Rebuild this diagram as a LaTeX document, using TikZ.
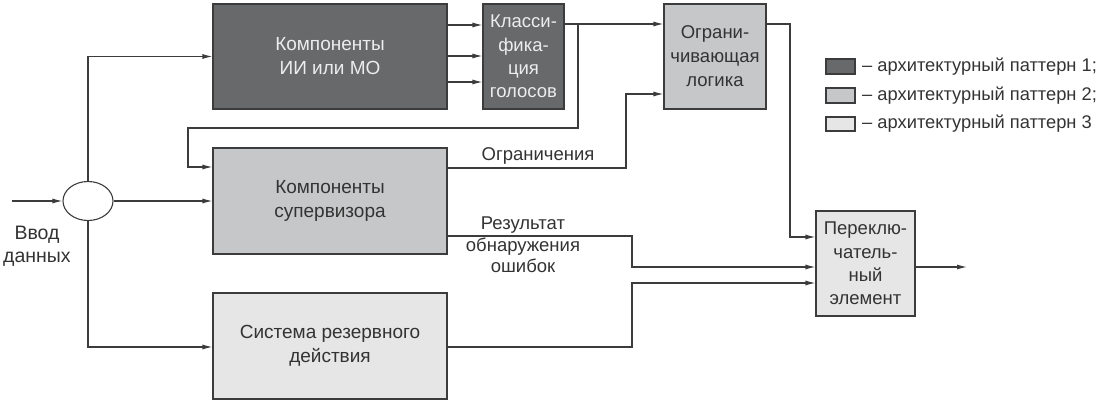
\documentclass[tikz,border=0pt]{standalone}
\usepackage{fontspec}
\setmainfont{Liberation Sans}
\usetikzlibrary{arrows.meta,shapes.geometric}
\definecolor{cdark}{HTML}{67696B}
\definecolor{cmid}{HTML}{C6C7C9}
\definecolor{clight}{HTML}{E6E6E7}
\definecolor{cline}{HTML}{3C3C3C}
\definecolor{cwtext}{HTML}{EDEDED}
\definecolor{ctext}{HTML}{333333}
\begin{document}
\begin{tikzpicture}[x=1pt,y=-1pt,
  font=\fontsize{19}{24}\selectfont,
  box/.style={draw=cline, line width=1.1pt, inner sep=0pt, align=center, text=ctext},
  darkbox/.style={box, fill=cdark, text=cwtext},
  midbox/.style={box, fill=cmid},
  lightbox/.style={box, fill=clight},
  conn/.style={draw=cline, line width=1.1pt},
  arr/.style={conn, -{Latex[length=10pt,width=5pt]}},
  lbl/.style={text=ctext, inner sep=0pt, align=center},
  legtext/.style={lbl, anchor=west, font=\fontsize{18.3}{22}\selectfont}]
\useasboundingbox (0,0) rectangle (1102,403);

% boxes
\node[darkbox, minimum width=234pt, minimum height=105pt] (ai) at (330,56.5) {Компоненты\\ИИ или МО};
\node[darkbox, minimum width=81pt, minimum height=105pt, font=\fontsize{18.5}{23.3}\selectfont] (cls) at (523.5,56.5) {Класси-\\фика-\\ция\\голосов};
\node[midbox, minimum width=102pt, minimum height=105pt, font=\fontsize{18.5}{24}\selectfont] (lim) at (715,56.5) {Ограни-\\чивающая\\логика};
\node[midbox, minimum width=234pt, minimum height=106pt] (sup) at (330,201) {Компоненты\\супервизора};
\node[lightbox, minimum width=234pt, minimum height=106pt] (res) at (330,346) {Система резервного\\действия};
\node[lightbox, minimum width=99pt, minimum height=105pt, font=\fontsize{18.5}{23.3}\selectfont] (sw) at (865.5,263.5) {Переклю-\\чатель-\\ный\\элемент};
\node[draw=cline, line width=1.1pt, fill=white, ellipse, minimum width=50pt, minimum height=39pt, inner sep=0pt] (ell) at (88,201) {};

% legend
\node[darkbox, minimum width=29pt, minimum height=15pt] (lg1) at (840.5,66.5) {};
\node[midbox, minimum width=29pt, minimum height=15pt] (lg2) at (840.5,95.5) {};
\node[lightbox, minimum width=29pt, minimum height=14pt] (lg3) at (840.5,124) {};
\node[legtext] (lt1) at (862,66.5) {– архитектурный паттерн 1;};
\node[legtext] (lt2) at (862,95.5) {– архитектурный паттерн 2;};
\node[legtext] (lt3) at (862,124) {– архитектурный паттерн 3};

% input
\coordinate (in) at (12,201);
\node[lbl, font=\fontsize{19.5}{23}\selectfont] (inlbl) at (37,246) {Ввод\\данных};
\draw[arr] (in) -- (ell.west);

% from ellipse
\draw[arr] (ell.north) |- (ai.west);
\draw[arr] (ell.east) -- (sup.west);
\draw[arr] (ell.south) |- (res.west |- 0,347);

% ai -> cls
\draw[arr] (ai.east |- 0,25) -- (cls.west |- 0,25);
\draw[arr] (ai.east |- 0,56) -- (cls.west |- 0,56);
\draw[arr] (ai.east |- 0,82) -- (cls.west |- 0,82);

% cls -> lim and feedback
\draw[arr] (cls.east |- 0,24) -- (lim.west |- 0,24);
\coordinate (fb1) at (578,24);
\coordinate (fb2) at (578,128);
\coordinate (fb3) at (188,128);
\draw[arr] (fb1) -- (fb2) -- (fb3) |- (sup.west |- 0,167);

% sup -> lim (constraints)
\coordinate (c1) at (626,168);
\draw[arr] (sup.east |- 0,168) -- (c1) |- (lim.west |- 0,94);
\node[lbl, font=\fontsize{18.5}{23}\selectfont] (clbl) at (538,156) {Ограничения};

% lim -> sw
\coordinate (l1) at (790,24);
\draw[arr] (lim.east |- 0,24) -- (l1) |- (sw.west |- 0,237);

% sup -> sw (errors)
\coordinate (e1) at (632,236);
\draw[arr] (sup.east |- 0,236) -- (e1) |- (sw.west |- 0,267);
\node[lbl, font=\fontsize{18.5}{21.5}\selectfont] (elbl) at (523,245) {Результат\\обнаружения\\ошибок};

% res -> sw
\coordinate (r1) at (632,347);
\draw[arr] (res.east |- 0,347) -- (r1) |- (sw.west |- 0,283);

% output
\coordinate (out) at (967,267);
\draw[arr] (sw.east |- 0,267) -- (out);
\end{tikzpicture}
\end{document}
